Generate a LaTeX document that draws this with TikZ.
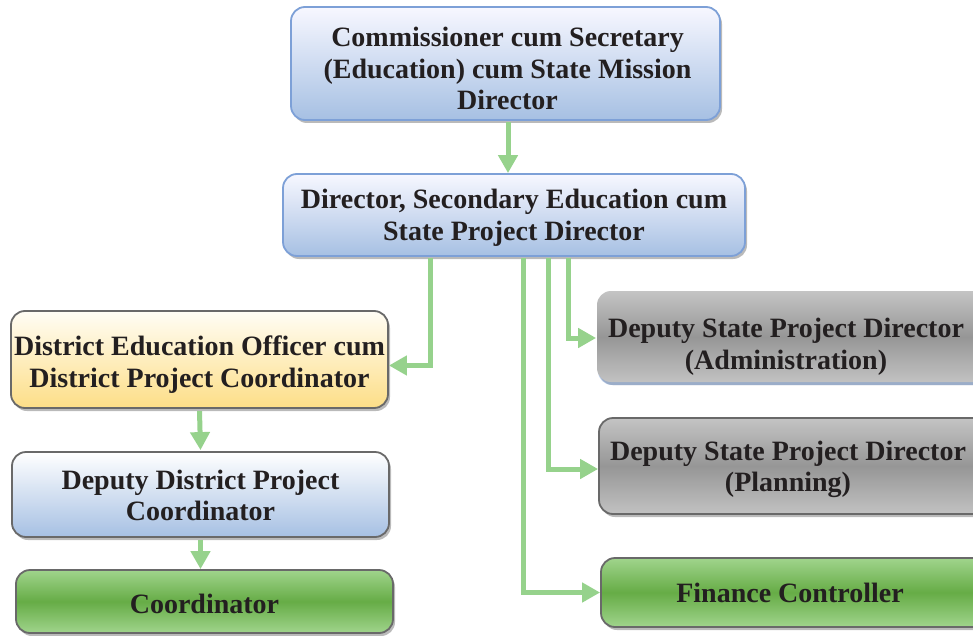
\documentclass[tikz,border=0pt]{standalone}
\usepackage{fontspec}
\setmainfont{Liberation Serif}
\usetikzlibrary{arrows.meta,shadows}

\definecolor{txt}{RGB}{35,31,32}
\definecolor{arrowgreen}{RGB}{150,210,140}
\definecolor{blueedge}{RGB}{125,160,215}
\definecolor{greyedge}{RGB}{105,105,105}

\tikzset{
  label font/.style={font=\fontsize{28}{31.5}\selectfont\bfseries},
  box/.style={rounded corners=14pt, line width=1.8pt, inner sep=0pt,
    drop shadow={shadow xshift=2pt, shadow yshift=-3pt, opacity=0.45, fill=black!60}},
  bluebox/.style={box, draw=blueedge, top color=blue!3!white, bottom color={rgb,255:red,166;green,192;blue,227}},
  paleblue/.style={box, draw=greyedge, top color=white, bottom color={rgb,255:red,166;green,192;blue,227}},
  yellowbox/.style={box, draw=greyedge, top color={rgb,255:red,255;green,253;blue,245}, bottom color={rgb,255:red,253;green,222;blue,135}},
  greybox/.style={box, top color={rgb,255:red,196;green,196;blue,196}, bottom color={rgb,255:red,194;green,194;blue,194}, middle color={rgb,255:red,150;green,150;blue,150}},
  greenbox/.style={box, draw=greyedge, top color={rgb,255:red,160;green,212;blue,140}, bottom color={rgb,255:red,160;green,212;blue,140}, middle color={rgb,255:red,102;green,172;blue,70}},
  conn/.style={draw=arrowgreen, line width=5pt, -{Triangle[length=18pt,width=19pt]}},
  plaintext/.style={text=txt, label font, align=center, inner sep=0pt}
}

\begin{document}
\begin{tikzpicture}[x=1pt,y=-1pt]
\useasboundingbox (0,0) rectangle (973,636);
\clip (0,0) rectangle (973,636);

% state level
\node[bluebox, minimum width=429pt, minimum height=113pt] (com) at (505.5,63.5) {};
\node[plaintext] (comtxt) at ([xshift=2pt,yshift=-5pt]com.center)
  {Commissioner cum Secretary\\(Education) cum State Mission\\Director};
\node[bluebox, minimum width=462pt, minimum height=82pt] (dir) at (514,215) {};
\node[plaintext] (dirtxt) at ([yshift=-3pt]dir.center)
  {Director, Secondary Education cum\\State Project Director};

% district level
\node[yellowbox, minimum width=377pt, minimum height=97pt] (deo) at (199.5,359.5) {};
\node[plaintext] (deotxt) at ([yshift=-5pt]deo.center)
  {District Education Officer cum\\District Project Coordinator};
\node[paleblue, minimum width=377pt, minimum height=85pt] (ddpc) at (200.5,494.5) {};
\node[plaintext] (ddpctxt) at ([yshift=-1pt]ddpc.center)
  {Deputy District Project\\Coordinator};
\node[greenbox, minimum width=377pt, minimum height=63pt] (coord) at (204.5,601.5) {};
\node[plaintext] (coordtxt) at ([yshift=-2pt]coord.center) {Coordinator};

% state office branches (run past the right edge)
\node[greybox, draw=none, minimum width=400pt, minimum height=91pt,
      drop shadow={shadow xshift=1pt, shadow yshift=-3pt, opacity=0.5, fill=blueedge}] (adm) at (797,336.5) {};
\node[plaintext] (admtxt) at (786,347)
  {Deputy State Project Director\\(Administration)};
\node[greybox, draw=greyedge, minimum width=400pt, minimum height=96pt] (plan) at (799,466) {};
\node[plaintext] (plantxt) at (788,469.5)
  {Deputy State Project Director\\(Planning)};
\node[greenbox, minimum width=400pt, minimum height=69pt] (fin) at (801,592.5) {};
\node[plaintext] (fintxt) at (790,592.5) {Finance Controller};

% connectors
\draw[conn] ([xshift=2.5pt,yshift=-1pt]com.south) -- ([xshift=2.5pt]com.south |- dir.north);
\draw[conn] ([xshift=-84pt,yshift=-1pt]dir.south) |- ([yshift=-6pt]deo.east);
\draw[conn] ([xshift=54pt,yshift=-1pt]dir.south) |- ([yshift=-1.5pt]adm.west);
\draw[conn] ([xshift=34pt,yshift=-1pt]dir.south) |- ([yshift=-3pt]plan.west);
\draw[conn] ([xshift=9pt,yshift=-1pt]dir.south) |- (fin.west);
\draw[conn] ([yshift=-2pt]deo.south) -- ([yshift=1pt]ddpc.north);
\draw[conn] ([yshift=-2pt]ddpc.south) -- (ddpc.south |- coord.north);
\end{tikzpicture}
\end{document}
